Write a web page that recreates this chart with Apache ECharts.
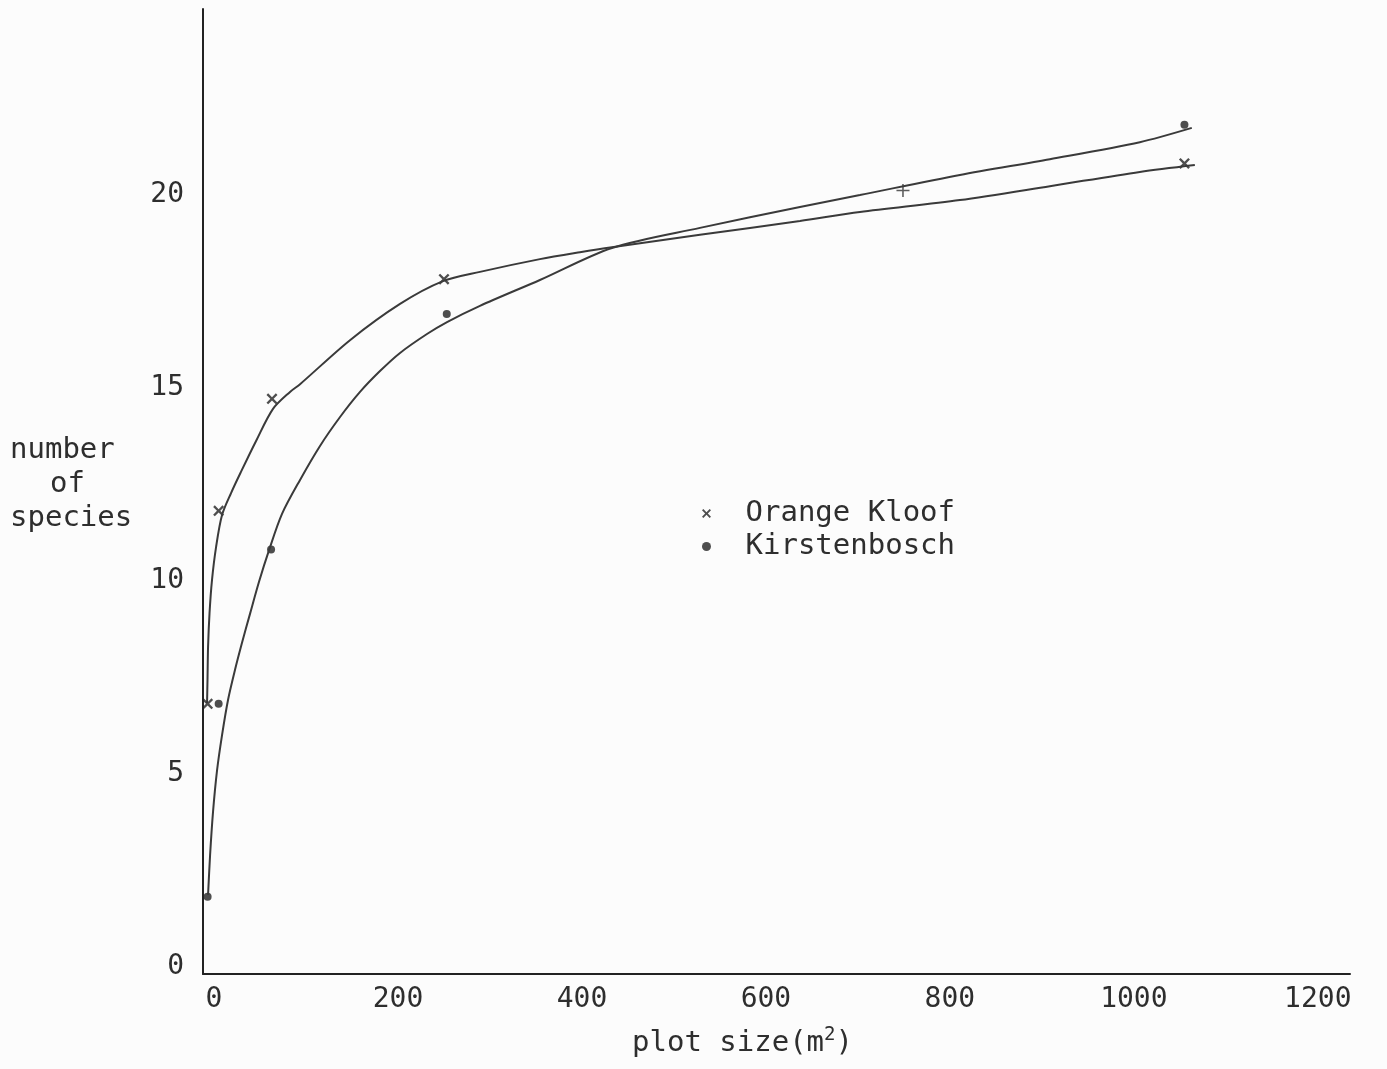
<!DOCTYPE html>
<html>
<head>
<meta charset="utf-8">
<title>Species-area curves</title>
<script src="https://cdn.jsdelivr.net/npm/echarts@6/dist/echarts.min.js"></script>
<style>
  html, body { margin: 0; padding: 0; background: #fcfcfc; }
  #chart { width: 1387px; height: 1069px; }
</style>
</head>
<body>
<div id="chart"></div>
<script>
// plotted points
const okX = [-7, 5, 63, 250, 1055];
const okY = [7, 12, 14.9, 18, 21];
const kbX = [-7, 5, 62, 253, 1055];
const kbY = [2, 7, 11, 17.1, 22];

// hand-drawn curves
const okCurveX = [-7.6, -7.1, -6.5, -4.9, -2.2, 2.2, 8.7, 18.5, 29.3, 45.7, 64.1, 82.6, 93.5, 147.8, 202.2, 248.9, 289.1, 354.3, 397.8, 432.6, 528.3, 637.0, 702.2, 810.9, 908.7, 1006.5, 1066.3];
const okCurveY = [7.02, 7.62, 8.47, 9.35, 10.21, 11.06, 11.89, 12.46, 13.01, 13.81, 14.64, 15.08, 15.28, 16.42, 17.36, 17.95, 18.19, 18.52, 18.70, 18.83, 19.15, 19.51, 19.74, 20.05, 20.41, 20.78, 20.96];
const kbCurveX = [-6.5, -4.3, -1.1, 3.3, 8.7, 15.2, 22.8, 30.4, 39.1, 48.9, 59.8, 73.9, 93.5, 115.2, 137.0, 158.7, 180.4, 202.2, 231.5, 253.3, 289.1, 354.3, 432.6, 528.3, 637.0, 702.2, 810.9, 908.7, 1006.5, 1063.0];
const kbCurveY = [2.05, 3.08, 4.20, 5.28, 6.19, 7.10, 7.88, 8.58, 9.33, 10.16, 10.98, 11.92, 12.80, 13.68, 14.43, 15.08, 15.62, 16.09, 16.58, 16.89, 17.31, 17.98, 18.81, 19.33, 19.87, 20.18, 20.70, 21.11, 21.55, 21.92];

// stray "+" mark on the upper curve
const markX = [749];
const markY = [20.3];

const xTicks = [0, 200, 400, 600, 800, 1000, 1200];
const yTicks = [0, 5, 10, 15, 20];

const FONT = '"DejaVu Sans Mono", "Liberation Mono", monospace';
const INK = '#2e2e2e';
const CROSS = 'path://M0,1.5L1.5,0L5,3.5L8.5,0L10,1.5L6.5,5L10,8.5L8.5,10L5,6.5L1.5,10L0,8.5L3.5,5Z';
const PLUS = 'path://M4.4,0H5.6V10H4.4Z M0,4.4H10V5.6H0Z';

const zip = (xs, ys) => xs.map((x, i) => [x, ys[i]]);

const chart = echarts.init(document.getElementById('chart'));
chart.setOption({
  backgroundColor: '#fcfcfc',
  animation: false,
  grid: { left: 203, right: 37, top: 9, bottom: 95 },
  xAxis: {
    type: 'value',
    min: -12,
    max: 1235,
    name: 'plot size(m{sup|2})',
    nameLocation: 'middle',
    nameGap: 52,
    nameTextStyle: {
      color: INK,
      fontFamily: FONT,
      fontSize: 29,
      padding: [0, 68, 0, 0],
      rich: {
        sup: { fontFamily: FONT, fontSize: 19, color: INK, padding: [0, 0, 16, 0] }
      }
    },
    axisLine: { lineStyle: { color: '#222', width: 2 } },
    axisTick: { show: false },
    splitLine: { show: false },
    axisLabel: {
      customValues: xTicks,
      formatter: (v) => String(v),
      color: INK,
      fontFamily: FONT,
      fontSize: 28,
      margin: 12
    }
  },
  yAxis: {
    type: 'value',
    min: 0,
    max: 25,
    axisLine: { onZero: false, lineStyle: { color: '#222', width: 2 } },
    axisTick: { show: false },
    splitLine: { show: false },
    axisLabel: {
      customValues: yTicks,
      formatter: (v) => String(v),
      color: INK,
      fontFamily: FONT,
      fontSize: 28,
      margin: 19,
      verticalAlign: 'bottom',
      lineHeight: 14
    }
  },
  legend: {
    orient: 'vertical',
    left: 697,
    top: 494,
    itemWidth: 68,
    itemHeight: 9,
    itemGap: 4,
    textStyle: { color: INK, fontFamily: FONT, fontSize: 29 },
    data: [
      { name: 'Orange Kloof', icon: CROSS },
      { name: 'Kirstenbosch', icon: 'circle' }
    ]
  },
  graphic: [
    { type: 'text', left: 10, top: 436, style: { text: 'number', fill: INK, font: '29px ' + FONT } },
    { type: 'text', left: 50, top: 470, style: { text: 'of', fill: INK, font: '29px ' + FONT } },
    { type: 'text', left: 10, top: 504, style: { text: 'species', fill: INK, font: '29px ' + FONT } }
  ],
  series: [
    {
      name: 'Orange Kloof curve',
      type: 'line',
      data: zip(okCurveX, okCurveY),
      smooth: 0.3,
      showSymbol: false,
      silent: true,
      lineStyle: { color: '#3a3a3a', width: 2 }
    },
    {
      name: 'Kirstenbosch curve',
      type: 'line',
      data: zip(kbCurveX, kbCurveY),
      smooth: 0.3,
      showSymbol: false,
      silent: true,
      lineStyle: { color: '#3a3a3a', width: 2 }
    },
    {
      name: 'Orange Kloof',
      type: 'scatter',
      data: zip(okX, okY),
      symbol: CROSS,
      symbolSize: 11,
      itemStyle: { color: '#222' }
    },
    {
      name: 'Kirstenbosch',
      type: 'scatter',
      data: zip(kbX, kbY),
      symbol: 'circle',
      symbolSize: 8,
      itemStyle: { color: '#222' }
    },
    {
      name: 'mark',
      type: 'scatter',
      data: zip(markX, markY),
      symbol: PLUS,
      symbolSize: 13,
      itemStyle: { color: '#333' }
    }
  ]
});

window.addEventListener('resize', () => chart.resize());
</script>
</body>
</html>
